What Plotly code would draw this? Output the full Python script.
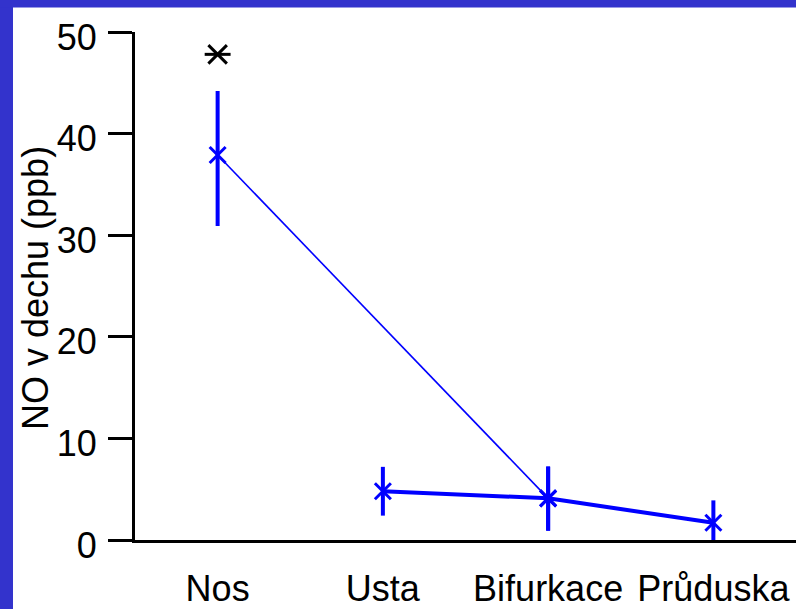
import plotly.graph_objects as go

categories = ["Nos", "Usta", "Bifurkace", "Průduska"]

# series 1: Nos -> Bifurkace (thin line)
s1_x = ["Nos", "Bifurkace"]
s1_y = [37.9, 4.1]
s1_err_plus = [6.3, 3.1]
s1_err_minus = [7.0, 3.2]

# series 2: Usta -> Bifurkace -> Průduska (thick line)
s2_x = ["Usta", "Bifurkace", "Průduska"]
s2_y = [4.8, 4.1, 1.7]
s2_err = [2.4, 3.15, 2.2]

# significance marker
sig_x = ["Nos"]
sig_y = [47.8]

y_ticks = [0, 10, 20, 30, 40, 50]
y_title = "NO v dechu (ppb)"

BLUE = "#0000ff"
FONT = "Liberation Sans, Arial, sans-serif"

fig = go.Figure()

fig.add_trace(go.Scatter(
    x=s1_x, y=s1_y, mode="lines+markers",
    line=dict(color=BLUE, width=1.6),
    marker=dict(symbol="x-thin-open", size=16, color=BLUE, line=dict(color=BLUE, width=3)),
    error_y=dict(type="data", symmetric=False, array=s1_err_plus, arrayminus=s1_err_minus,
                 color=BLUE, thickness=4, width=0),
    showlegend=False,
))

fig.add_trace(go.Scatter(
    x=s2_x, y=s2_y, mode="lines+markers",
    line=dict(color=BLUE, width=4),
    marker=dict(symbol="x-thin-open", size=16, color=BLUE, line=dict(color=BLUE, width=3)),
    error_y=dict(type="data", array=s2_err, color=BLUE, thickness=4, width=0),
    showlegend=False,
))

for sym in ["x-thin-open", "line-ew-open"]:
    fig.add_trace(go.Scatter(
        x=sig_x, y=sig_y, mode="markers",
        marker=dict(symbol=sym, size=18.5, color="black", line=dict(color="black", width=3)),
        showlegend=False,
    ))

W, H = 796, 609
L, R, T, B = 135, 0, 32, 69
pw, ph = W - L - R, H - T - B

def px_x(x):
    return (x - L) / pw

def px_y(y):
    return (H - B - y) / ph

fig.update_layout(
    width=W, height=H,
    margin=dict(l=L, r=R, t=T, b=B, autoexpand=False),
    paper_bgcolor="white", plot_bgcolor="white",
    font=dict(family=FONT, size=36, color="black"),
    xaxis=dict(
        type="category", categoryorder="array", categoryarray=categories,
        range=[-0.5, 3.5],
        showline=True, linecolor="black", linewidth=3,
        showgrid=False, zeroline=False, ticks="",
        tickfont=dict(size=36, family=FONT),
        ticklabelstandoff=15,
    ),
    yaxis=dict(
        range=[0, 50], tickvals=y_ticks,
        showline=True, linecolor="black", linewidth=3,
        showgrid=False, zeroline=False,
        ticks="outside", ticklen=24, tickwidth=3, tickcolor="black",
        tickfont=dict(size=36, family=FONT),
        ticklabelstandoff=4, ticklabelshift=5,
    ),
    annotations=[dict(
        text=y_title, textangle=-90, showarrow=False,
        xref="paper", yref="paper", x=px_x(35), y=px_y(288),
        xanchor="center", yanchor="middle",
        font=dict(size=36, family=FONT, color="black"),
    )],
    shapes=[
        dict(type="rect", xref="paper", yref="paper", layer="above",
             x0=px_x(0), x1=px_x(13), y0=px_y(H), y1=px_y(0),
             fillcolor="#3333cc", line=dict(width=0)),
        dict(type="rect", xref="paper", yref="paper", layer="above",
             x0=px_x(0), x1=px_x(W), y0=px_y(7.5), y1=px_y(0),
             fillcolor="#3333cc", line=dict(width=0)),
    ],
)

fig.write_html(
    "out.html",
    config={"displayModeBar": False},
    post_script="document.body.style.margin='0';document.body.style.overflow='hidden';",
)
